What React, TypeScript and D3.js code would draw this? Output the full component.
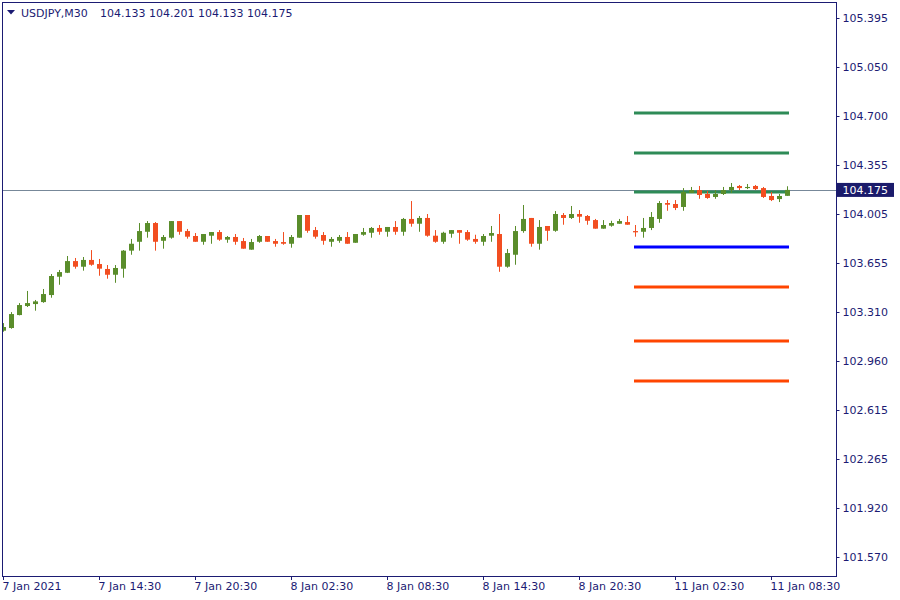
import React, {useEffect, useRef} from "react";
import * as d3 from "d3";

// USDJPY M30 candles (oldest first)
const opens = [
    103.176, 103.195, 103.287, 103.351, 103.365, 103.379, 103.429, 103.559, 103.587, 103.670,
    103.630, 103.678, 103.649, 103.614, 103.573, 103.616, 103.744, 103.807, 103.878, 103.940,
    103.814, 103.836, 103.954, 103.883, 103.848, 103.807, 103.850, 103.876, 103.822, 103.841,
    103.812, 103.751, 103.807, 103.848, 103.812, 103.805, 103.793, 103.836, 103.997, 103.890,
    103.855, 103.807, 103.814, 103.841, 103.800, 103.857, 103.871, 103.905, 103.878, 103.912,
    103.878, 103.969, 103.935, 103.976, 103.850, 103.807, 103.864, 103.890, 103.876, 103.827,
    103.807, 103.850, 103.862, 103.630, 103.715, 103.883, 103.976, 103.793, 103.919, 103.885,
    103.997, 103.976, 104.004, 103.990, 103.961, 103.900, 103.921, 103.935, 103.947, 103.883,
    103.878, 103.905, 103.969, 104.082, 104.075, 104.054, 104.153, 104.174, 104.146, 104.125,
    104.146, 104.174, 104.203, 104.188, 104.203, 104.188, 104.132, 104.110, 104.133,
];
const highs = [
    103.230, 103.308, 103.372, 103.458, 103.394, 103.472, 103.578, 103.607, 103.706, 103.692,
    103.699, 103.748, 103.685, 103.642, 103.642, 103.748, 103.827, 103.940, 103.954, 103.947,
    103.855, 103.954, 103.954, 103.898, 103.869, 103.862, 103.876, 103.890, 103.848, 103.862,
    103.834, 103.827, 103.855, 103.848, 103.827, 103.876, 103.855, 103.997, 103.997, 103.912,
    103.876, 103.841, 103.855, 103.876, 103.862, 103.905, 103.912, 103.926, 103.912, 103.954,
    103.976, 104.096, 103.990, 104.004, 103.890, 103.878, 103.890, 103.890, 103.890, 103.857,
    103.862, 103.919, 104.004, 103.756, 103.919, 104.068, 103.976, 103.961, 103.919, 104.025,
    104.011, 104.061, 104.032, 103.997, 103.969, 103.961, 103.956, 103.969, 103.990, 103.926,
    103.976, 104.018, 104.096, 104.103, 104.103, 104.188, 104.196, 104.203, 104.167, 104.174,
    104.196, 104.224, 104.210, 104.217, 104.210, 104.196, 104.160, 104.146, 104.201,
];
const lows = [
    103.169, 103.190, 103.285, 103.344, 103.318, 103.374, 103.410, 103.502, 103.585, 103.616,
    103.602, 103.637, 103.566, 103.545, 103.516, 103.552, 103.715, 103.744, 103.836, 103.744,
    103.758, 103.829, 103.857, 103.829, 103.807, 103.786, 103.793, 103.814, 103.800, 103.786,
    103.758, 103.751, 103.800, 103.807, 103.772, 103.786, 103.765, 103.836, 103.871, 103.829,
    103.786, 103.772, 103.800, 103.793, 103.800, 103.850, 103.836, 103.857, 103.843, 103.857,
    103.850, 103.914, 103.878, 103.843, 103.800, 103.793, 103.836, 103.793, 103.814, 103.793,
    103.779, 103.807, 103.594, 103.623, 103.644, 103.871, 103.772, 103.751, 103.814, 103.878,
    103.928, 103.969, 103.942, 103.928, 103.900, 103.900, 103.914, 103.935, 103.928, 103.843,
    103.836, 103.890, 103.942, 104.027, 104.032, 104.027, 104.153, 104.112, 104.112, 104.112,
    104.139, 104.153, 104.174, 104.181, 104.174, 104.118, 104.096, 104.089, 104.133,
];
const closes = [
    103.202, 103.294, 103.358, 103.372, 103.384, 103.436, 103.564, 103.592, 103.670, 103.630,
    103.678, 103.644, 103.616, 103.573, 103.621, 103.744, 103.793, 103.883, 103.940, 103.807,
    103.841, 103.954, 103.878, 103.843, 103.807, 103.862, 103.876, 103.822, 103.841, 103.807,
    103.758, 103.805, 103.848, 103.807, 103.793, 103.793, 103.841, 103.997, 103.885, 103.843,
    103.814, 103.827, 103.841, 103.793, 103.862, 103.876, 103.905, 103.878, 103.912, 103.878,
    103.969, 103.935, 103.976, 103.850, 103.807, 103.871, 103.890, 103.871, 103.822, 103.807,
    103.848, 103.869, 103.630, 103.727, 103.883, 103.969, 103.793, 103.912, 103.885, 104.004,
    103.976, 104.004, 103.985, 103.956, 103.900, 103.926, 103.940, 103.954, 103.928, 103.874,
    103.905, 103.983, 104.082, 104.070, 104.047, 104.160, 104.174, 104.139, 104.118, 104.146,
    104.174, 104.196, 104.188, 104.196, 104.181, 104.125, 104.103, 104.132, 104.175,
];

// pivot levels drawn over the last session
const levelNames = ["R3", "R2", "R1", "P", "S1", "S2", "S3"];
const levelValues = [104.721, 104.437, 104.160, 103.770, 103.486, 103.103, 102.819];
const levelFrom = 79;
const levelTo = 98;

const symbol = "USDJPY,M30";
const bid = 104.175;

const priceTicks = [105.395, 105.050, 104.700, 104.355, 104.005, 103.655, 103.310, 102.960, 102.615, 102.265, 101.920, 101.570];
const timeLabels = ["7 Jan 2021", "7 Jan 14:30", "7 Jan 20:30", "8 Jan 02:30", "8 Jan 08:30", "8 Jan 14:30", "8 Jan 20:30", "11 Jan 02:30", "11 Jan 08:30"];
const timeLabelStep = 12;

const FONT = "DejaVu Sans";
const INK = "#1b1b73";
const BULL = "#5a8d2b";
const BEAR = "#f24e21";

function App() {
    const ref = useRef<SVGSVGElement>(null);

    useEffect(() => {
        const svg: any = d3.select(ref.current);
        svg.selectAll("*").remove();

        const left = 2.5, right = 836.5, top = 2.5, bottom = 576.5;

        const x = d3.scaleLinear().domain([0, 1]).range([3.5, 11.5]);
        const y = d3.scaleLinear().domain([101.570, 105.395]).range([557, 18]);

        svg.append("rect").attr("width", 900).attr("height", 600).attr("fill", "#fff");

        svg.append("clipPath").attr("id", "plot-clip")
            .append("rect")
            .attr("x", left + 0.5).attr("y", top + 0.5)
            .attr("width", right - left - 1).attr("height", bottom - top - 1);

        const plot = svg.append("g").attr("clip-path", "url(#plot-clip)");

        // bid line
        plot.append("line")
            .attr("x1", left).attr("x2", right)
            .attr("y1", Math.round(y(bid)) + 0.5).attr("y2", Math.round(y(bid)) + 0.5)
            .attr("stroke", "#778899").attr("stroke-width", 1);

        // pivot levels
        plot.append("g")
            .selectAll("line")
            .data(levelValues)
            .enter()
            .append("line")
            .attr("x1", x(levelFrom) - 1.5)
            .attr("x2", x(levelTo) + 1.5)
            .attr("y1", (v: number) => y(v))
            .attr("y2", (v: number) => y(v))
            .attr("stroke", (_: number, i: number) => {
                const n = levelNames[i];
                return n[0] === "R" ? "#2e8b57" : n[0] === "S" ? "#ff4500" : "#0000ff";
            })
            .attr("stroke-width", 3);

        // candles
        const idx = d3.range(opens.length);
        const candles = plot.append("g")
            .selectAll("g")
            .data(idx)
            .enter()
            .append("g")
            .attr("fill", (i: number) => closes[i] >= opens[i] ? BULL : BEAR);

        candles.append("rect")
            .attr("x", (i: number) => x(i) - 0.5)
            .attr("width", 1)
            .attr("y", (i: number) => y(highs[i]))
            .attr("height", (i: number) => Math.max(1, y(lows[i]) - y(highs[i])));

        candles.append("rect")
            .attr("x", (i: number) => x(i) - 2.5)
            .attr("width", 5)
            .attr("y", (i: number) => y(Math.max(opens[i], closes[i])))
            .attr("height", (i: number) => Math.max(1, Math.abs(y(opens[i]) - y(closes[i]))));

        // frame
        svg.append("rect")
            .attr("x", left).attr("y", top)
            .attr("width", right - left).attr("height", bottom - top)
            .attr("fill", "none").attr("stroke", INK).attr("stroke-width", 1);

        // price axis
        const yAxis = svg.append("g");
        yAxis.selectAll("line")
            .data(priceTicks)
            .enter()
            .append("line")
            .attr("x1", right).attr("x2", right + 3)
            .attr("y1", (v: number) => Math.round(y(v)) + 0.5)
            .attr("y2", (v: number) => Math.round(y(v)) + 0.5)
            .attr("stroke", INK);
        yAxis.selectAll("text")
            .data(priceTicks)
            .enter()
            .append("text")
            .attr("x", right + 6)
            .attr("y", (v: number) => y(v) + 4)
            .attr("fill", INK)
            .attr("font-family", FONT).attr("font-size", 11)
            .text((v: number) => v.toFixed(3));

        // bid label
        svg.append("rect")
            .attr("x", right + 0.5).attr("y", y(bid) - 7)
            .attr("width", 57).attr("height", 14)
            .attr("fill", "#1b1b6b");
        svg.append("text")
            .attr("x", right + 6).attr("y", y(bid) + 4)
            .attr("fill", "#fff")
            .attr("font-family", FONT).attr("font-size", 11)
            .text(bid.toFixed(3));

        // time axis
        const xAxis = svg.append("g");
        xAxis.selectAll("line")
            .data(timeLabels)
            .enter()
            .append("line")
            .attr("x1", (_: string, i: number) => x(i * timeLabelStep))
            .attr("x2", (_: string, i: number) => x(i * timeLabelStep))
            .attr("y1", bottom).attr("y2", bottom + 3.5)
            .attr("stroke", INK);
        xAxis.selectAll("text")
            .data(timeLabels)
            .enter()
            .append("text")
            .attr("x", (_: string, i: number) => x(i * timeLabelStep) - 1)
            .attr("y", 590)
            .attr("fill", INK)
            .attr("font-family", FONT).attr("font-size", 11)
            .text((d: string) => d);

        // header
        svg.append("path")
            .attr("d", "M7,10 L15,10 L11,14.5 Z")
            .attr("fill", INK);
        svg.append("text")
            .attr("x", 21).attr("y", 17)
            .attr("fill", INK)
            .attr("font-family", FONT).attr("font-size", 11)
            .text(symbol);
        svg.append("text")
            .attr("x", 100).attr("y", 17)
            .attr("fill", INK)
            .attr("font-family", FONT).attr("font-size", 11)
            .text([opens[opens.length - 1], highs[highs.length - 1], lows[lows.length - 1], closes[closes.length - 1]]
                .map(v => v.toFixed(3)).join(" "));
    }, []);

    return (
        <svg ref={ref} width={900} height={600}
             style={{position: "absolute", left: 0, top: 0, display: "block"}}></svg>
    );
}

export default App;
